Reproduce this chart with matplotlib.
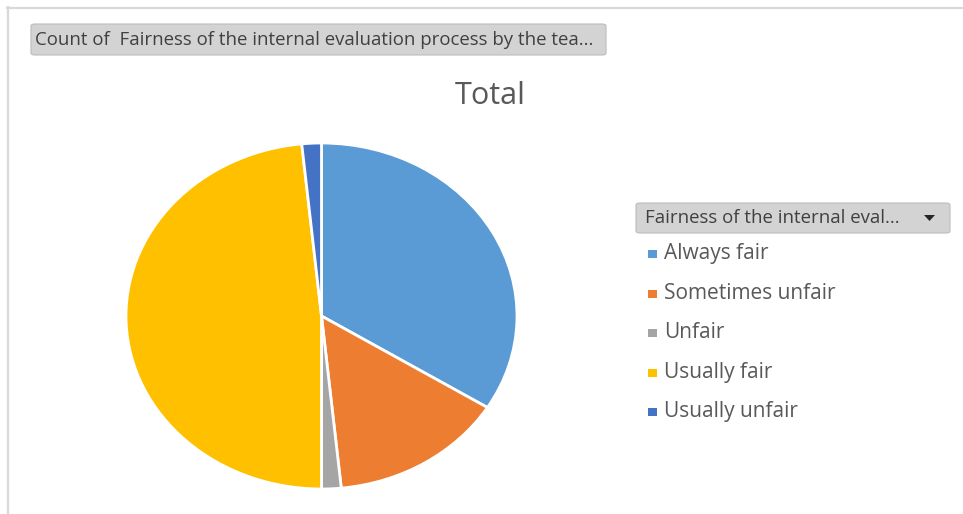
import matplotlib
matplotlib.use('Agg')
import matplotlib.pyplot as plt
from matplotlib.patches import FancyBboxPatch, Rectangle, Polygon

# data (counts)
categories = ['Always fair', 'Sometimes unfair', 'Unfair', 'Usually fair', 'Usually unfair']
counts = [21, 9, 1, 30, 1]
colors = ['#5B9BD5', '#ED7D31', '#A5A5A5', '#FFC000', '#4472C4']

title = 'Total'
field_button = 'Count of  Fairness of the internal evaluation process by the tea...'
legend_button = 'Fairness of the internal eval...'

W, H = 963, 514
fig = plt.figure(figsize=(W / 100, H / 100), dpi=100)
fig.patch.set_facecolor('white')
font = 'Open Sans'


def fx(px):
    return px / W


def fy(py):
    return 1 - py / H


# outer frame lines (top and left)
fig.add_artist(plt.Line2D([fx(7), 1], [fy(8), fy(8)], color='#d9d9d9', lw=1.6))
fig.add_artist(plt.Line2D([fx(8), fx(8)], [fy(7), 0], color='#d9d9d9', lw=1.6))

# field button top left
fig.patches.append(FancyBboxPatch((fx(31), fy(55)), fx(606) - fx(31), fy(24) - fy(55),
                                  boxstyle='round,pad=0,rounding_size=0.004',
                                  transform=fig.transFigure, facecolor='#d3d3d3',
                                  edgecolor='#bcbcbc', lw=0.8))
fig.text(fx(35), fy(40), field_button, fontsize=13.4, color='#404040',
         va='center', ha='left', family=font)

# title
fig.text(fx(490), fy(96), title, fontsize=22, color='#595959', ha='center', va='center', family=font)

# pie (elliptical, as in the reference)
ax = fig.add_axes([fx(126), fy(489), fx(517) - fx(126), fy(143) - fy(489)])
wedges, _ = ax.pie(counts, colors=colors, startangle=90, counterclock=False,
                   wedgeprops=dict(edgecolor='white', linewidth=2))
ax.set_aspect('auto')
ax.set_xlim(-1.0, 1.0)
ax.set_ylim(-1.0, 1.0)
ax.axis('off')

# legend button
fig.patches.append(FancyBboxPatch((fx(636), fy(233)), fx(950) - fx(636), fy(203) - fy(233),
                                  boxstyle='round,pad=0,rounding_size=0.004',
                                  transform=fig.transFigure, facecolor='#d3d3d3',
                                  edgecolor='#bcbcbc', lw=0.8))
fig.text(fx(645), fy(218), legend_button, fontsize=13.4, color='#404040',
         va='center', ha='left', family=font)
fig.patches.append(Polygon([[fx(924), fy(215)], [fx(935), fy(215)], [fx(929.5), fy(221)]],
                           closed=True, transform=fig.transFigure, facecolor='#262626', edgecolor='none'))

# legend entries
y0, dy = 254, 39.5
for i, (lab, col) in enumerate(zip(categories, colors)):
    yy = y0 + i * dy
    fig.patches.append(Rectangle((fx(648), fy(yy + 4)), fx(9), fy(0) - fy(8),
                                 transform=fig.transFigure, facecolor=col, edgecolor='none'))
    fig.text(fx(664), fy(yy), lab, fontsize=15, color='#595959', va='center', ha='left', family=font)

fig.savefig('out.png', dpi=100)
